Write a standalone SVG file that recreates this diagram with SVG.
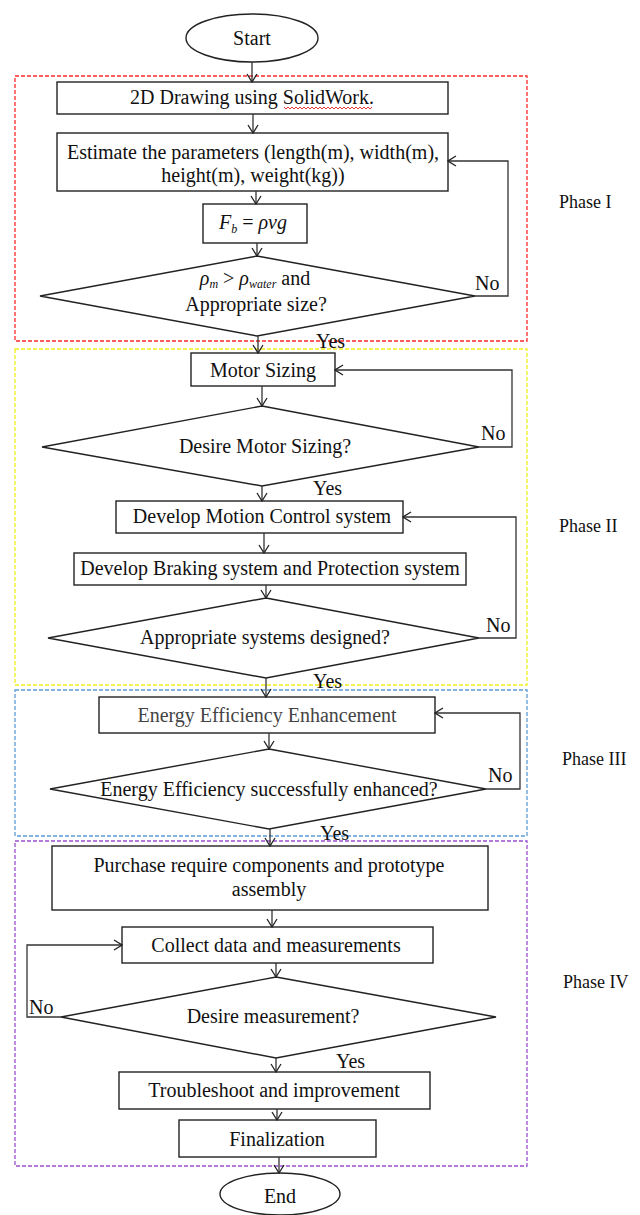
<svg xmlns="http://www.w3.org/2000/svg" width="640" height="1215" viewBox="0 0 640 1215">
<defs>
<marker id="arr" markerWidth="10" markerHeight="12" refX="9" refY="6" orient="auto" markerUnits="userSpaceOnUse">
<path d="M1,1 L9,6 L1,11" fill="none" stroke="#222" stroke-width="1.3"/>
</marker>
<style>
text{font-family:"Liberation Serif","Times New Roman",serif;font-size:20px;fill:#111;}
.c{text-anchor:middle;}
.shape{fill:#fff;stroke:#222;stroke-width:1.4;}
.conn line,.conn polyline{fill:none;stroke:#333;stroke-width:1.3;}
.ph{fill:none;stroke-width:1.3;stroke-dasharray:4,2;}
.lbl{font-size:20px;}
.phase{font-size:18px;}
.math{font-style:italic;}
.sub{font-size:12px;font-style:italic;}
</style>
</defs>
<rect width="640" height="1215" fill="#fff"/>

<g id="phase-boxes">
<rect class="ph" x="15" y="76" width="512" height="265" stroke="#ff2a2a"/>
<rect class="ph" x="15" y="349" width="512" height="336" stroke="#f2ee1a"/>
<rect class="ph" x="15" y="690" width="512" height="146" stroke="#5b9bd5"/>
<rect class="ph" x="15" y="841" width="512" height="325" stroke="#9a4fd0"/>
</g>

<g id="start">
<ellipse class="shape" cx="252" cy="38" rx="66" ry="24"/>
<text class="c" x="252" y="45">Start</text>
</g>
<g id="drawing">
<rect class="shape" x="57" y="82" width="391" height="32"/>
<text class="c" x="252" y="104">2D Drawing using SolidWork.</text>
<path d="M284,107 l2,2 l2,-2 l2,2 l2,-2 l2,2 l2,-2 l2,2 l2,-2 l2,2 l2,-2 l2,2 l2,-2 l2,2 l2,-2 l2,2 l2,-2 l2,2 l2,-2 l2,2 l2,-2 l2,2 l2,-2 l2,2 l2,-2 l2,2 l2,-2 l2,2 l2,-2 l2,2 l2,-2 l2,2 l2,-2 l2,2 l2,-2 l2,2 l2,-2 l2,2 l2,-2 l2,2 l2,-2 l2,2 l2,-2 l2,2 l2,-2" fill="none" stroke="#e02020" stroke-width="0.9"/>
</g>
<g id="estimate">
<rect class="shape" x="57" y="133" width="391" height="58"/>
<text class="c" x="253" y="159">Estimate the parameters (length(m), width(m),</text>
<text class="c" x="253" y="182">height(m), weight(kg))</text>
</g>
<g id="buoyancy">
<rect class="shape" x="203" y="204" width="104" height="39"/>
<text class="c" x="253" y="229"><tspan class="math">F</tspan><tspan class="sub" dy="4">b</tspan><tspan dy="-4"> = </tspan><tspan class="math">ρvg</tspan></text>
</g>
<g id="decision1">
<polygon class="shape" points="257,256 475,296 257,336 40,296"/>
<text class="c" x="255" y="285"><tspan class="math">ρ</tspan><tspan class="sub" dy="3">m</tspan><tspan dy="-3"> &gt; </tspan><tspan class="math">ρ</tspan><tspan class="sub" dy="3">water</tspan><tspan dy="-3"> and</tspan></text>
<text class="c" x="256" y="311">Appropriate size?</text>
</g>
<g id="motor">
<rect class="shape" x="191" y="353" width="144" height="33"/>
<text class="c" x="263" y="377">Motor Sizing</text>
</g>
<g id="decision2">
<polygon class="shape" points="262,406 479,447 262,486 42,447"/>
<text class="c" x="265" y="453">Desire Motor Sizing?</text>
</g>
<g id="motion">
<rect class="shape" x="116" y="501" width="287" height="32"/>
<text class="c" x="262" y="523">Develop Motion Control system</text>
</g>
<g id="braking">
<rect class="shape" x="74" y="553" width="392" height="32"/>
<text class="c" x="270" y="575">Develop  Braking system and Protection system</text>
</g>
<g id="decision3">
<polygon class="shape" points="266,598 479,638 266,678 48,638"/>
<text class="c" x="265" y="644">Appropriate systems designed?</text>
</g>
<g id="energy">
<rect class="shape" x="99" y="697" width="336" height="36"/>
<text class="c" x="267" y="722" style="fill:#444">Energy Efficiency Enhancement</text>
</g>
<g id="decision4">
<polygon class="shape" points="269,749 486,789 269,829 50,789"/>
<text class="c" x="269" y="796">Energy Efficiency successfully enhanced?</text>
</g>
<g id="purchase">
<rect class="shape" x="52" y="846" width="436" height="64"/>
<text class="c" x="269" y="872">Purchase require  components and prototype</text>
<text class="c" x="269" y="896">assembly</text>
</g>
<g id="collect">
<rect class="shape" x="122" y="927" width="311" height="36"/>
<text class="c" x="276" y="952">Collect data and measurements</text>
</g>
<g id="decision5">
<polygon class="shape" points="276,977 496,1017 276,1058 61,1017"/>
<text class="c" x="273" y="1023">Desire measurement?</text>
</g>
<g id="troubleshoot">
<rect class="shape" x="119" y="1072" width="311" height="37"/>
<text class="c" x="274" y="1097">Troubleshoot and improvement</text>
</g>
<g id="finalization">
<rect class="shape" x="179" y="1120" width="197" height="37"/>
<text class="c" x="277" y="1146">Finalization</text>
</g>
<g id="end">
<ellipse class="shape" cx="280" cy="1194" rx="60" ry="21"/>
<text class="c" x="280" y="1203">End</text>
</g>

<g id="connectors" class="conn">
<line x1="252" y1="62" x2="252" y2="82" marker-end="url(#arr)"/>
<line x1="253" y1="114" x2="253" y2="133" marker-end="url(#arr)"/>
<line x1="256" y1="191" x2="256" y2="204" marker-end="url(#arr)"/>
<line x1="257" y1="243" x2="257" y2="256" marker-end="url(#arr)"/>
<line x1="258" y1="336" x2="258" y2="353" marker-end="url(#arr)"/>
<line x1="262" y1="386" x2="262" y2="406" marker-end="url(#arr)"/>
<line x1="262" y1="486" x2="262" y2="501" marker-end="url(#arr)"/>
<line x1="264" y1="533" x2="264" y2="553" marker-end="url(#arr)"/>
<line x1="266" y1="585" x2="266" y2="598" marker-end="url(#arr)"/>
<line x1="266" y1="678" x2="266" y2="697" marker-end="url(#arr)"/>
<line x1="269" y1="733" x2="269" y2="749" marker-end="url(#arr)"/>
<line x1="270" y1="829" x2="270" y2="846" marker-end="url(#arr)"/>
<line x1="272" y1="910" x2="272" y2="927" marker-end="url(#arr)"/>
<line x1="276" y1="963" x2="276" y2="977" marker-end="url(#arr)"/>
<line x1="276" y1="1058" x2="276" y2="1072" marker-end="url(#arr)"/>
<line x1="277" y1="1109" x2="277" y2="1120" marker-end="url(#arr)"/>
<line x1="279" y1="1157" x2="279" y2="1173" marker-end="url(#arr)"/>
<polyline points="475,296 508,296 508,161 448,161" marker-end="url(#arr)"/>
<polyline points="479,447 512,447 512,370 335,370" marker-end="url(#arr)"/>
<polyline points="479,638 516,638 516,517 403,517" marker-end="url(#arr)"/>
<polyline points="486,789 520,789 520,713 435,713" marker-end="url(#arr)"/>
<polyline points="61,1017 27,1017 27,945 122,945" marker-end="url(#arr)"/>
</g>

<g id="labels">
<text class="lbl" x="475" y="290">No</text>
<text class="lbl" x="316" y="348">Yes</text>
<text class="lbl" x="481" y="440">No</text>
<text class="lbl" x="313" y="495">Yes</text>
<text class="lbl" x="486" y="632">No</text>
<text class="lbl" x="313" y="688">Yes</text>
<text class="lbl" x="488" y="782">No</text>
<text class="lbl" x="320" y="840">Yes</text>
<text class="lbl" x="29" y="1014">No</text>
<text class="lbl" x="336" y="1068">Yes</text>
<text class="phase" x="559" y="208">Phase I</text>
<text class="phase" x="559" y="532">Phase II</text>
<text class="phase" x="562" y="765">Phase III</text>
<text class="phase" x="563" y="988">Phase IV</text>
</g>
</svg>
